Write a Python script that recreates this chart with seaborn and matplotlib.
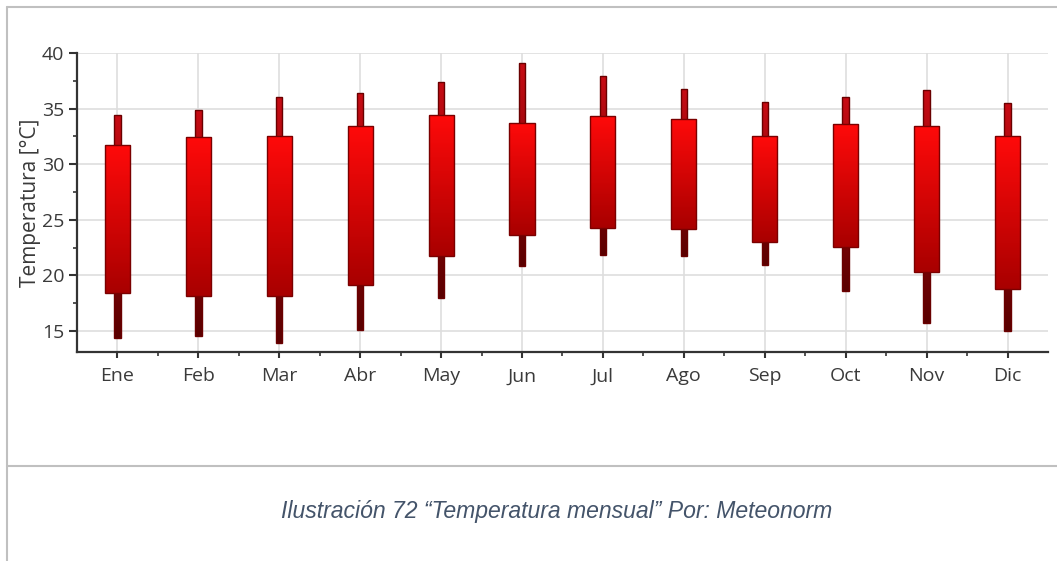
import numpy as np
import pandas as pd
import matplotlib
matplotlib.use("Agg")
import matplotlib.pyplot as plt
from matplotlib.colors import to_rgb
from matplotlib.lines import Line2D
from matplotlib.ticker import FixedLocator, MultipleLocator
import seaborn as sns

# Datos (temperatura mensual, ºC)
meses = ["Ene", "Feb", "Mar", "Abr", "May", "Jun", "Jul", "Ago", "Sep", "Oct", "Nov", "Dic"]
t_min = [14.4, 14.5, 13.9, 15.1, 18.0, 20.8, 21.8, 21.7, 20.9, 18.6, 15.7, 15.0]
t_caja_baja = [18.4, 18.1, 18.15, 19.1, 21.7, 23.6, 24.3, 24.2, 23.0, 22.55, 20.3, 18.8]
t_caja_alta = [31.7, 32.4, 32.5, 33.4, 34.4, 33.7, 34.3, 34.1, 32.5, 33.6, 33.4, 32.5]
t_max = [34.4, 34.9, 36.0, 36.4, 37.4, 39.1, 37.9, 36.8, 35.6, 36.0, 36.7, 35.5]

df = pd.DataFrame({
    "mes": meses,
    "t_min": t_min,
    "t_max": t_max,
    "caja_baja": t_caja_baja,
    "caja_alta": t_caja_alta,
})
df["rango"] = df["t_max"] - df["t_min"]
df["caja"] = df["caja_alta"] - df["caja_baja"]

sns.set_theme(style="whitegrid")
plt.rcParams["font.family"] = ["Open Sans", "DejaVu Sans"]

fig = plt.figure(figsize=(10.57, 5.61), dpi=100)
ax = fig.add_axes([0.0728, 0.3725, 0.9187, 0.533])

# whiskers (min-max) and boxes, both as bars with a bottom
sns.barplot(data=df, x="mes", y="rango", bottom=df["t_min"].values, width=0.08,
            errorbar=None, color="#900000", ax=ax)
n_bigotes = len(ax.patches)
sns.barplot(data=df, x="mes", y="caja", bottom=df["caja_baja"].values, width=0.31,
            errorbar=None, color="#d00000", ax=ax)


def degradado(patch, arriba, abajo, borde, z):
    x0, y0 = patch.get_x(), patch.get_y()
    w, h = patch.get_width(), patch.get_height()
    c = np.linspace(0, 1, 256)[:, None, None]
    img = np.array(to_rgb(arriba))[None, None, :] * (1 - c) + np.array(to_rgb(abajo))[None, None, :] * c
    im = ax.imshow(img, extent=(x0, x0 + w, y0, y0 + h), aspect="auto",
                   origin="upper", zorder=z, interpolation="bilinear")
    im.set_clip_path(patch)
    patch.set_facecolor("none")
    patch.set_edgecolor(borde)
    patch.set_linewidth(1.0)
    patch.set_zorder(z + 0.1)


for i, p in enumerate(ax.patches):
    if i < n_bigotes:
        degradado(p, "#c80c14", "#5a0000", "#6a0000", 3)
    else:
        degradado(p, "#ff0a0a", "#a80000", "#7a0000", 4)

ax.set_xlim(-0.5, 11.5)
ax.set_ylim(13.1, 40)
ax.set_yticks([15, 20, 25, 30, 35, 40])
ax.yaxis.set_minor_locator(MultipleLocator(2.5))
ax.xaxis.set_minor_locator(FixedLocator(np.arange(0.5, 11, 1)))

ax.grid(True, which="major", color="#dedede", linewidth=1.2)
ax.grid(False, which="minor")
ax.set_axisbelow(True)

sns.despine(ax=ax)
for s in ["left", "bottom"]:
    ax.spines[s].set_color("#333333")
    ax.spines[s].set_linewidth(1.6)

ax.tick_params(axis="both", which="major", length=6, width=1.5, color="#333333",
               labelsize=14, labelcolor="#3a3a3a", left=True, bottom=True, pad=3)
ax.tick_params(axis="both", which="minor", length=3, width=1.2, color="#333333",
               left=True, bottom=True)
ax.tick_params(axis="x", which="major", length=4, pad=7)

ax.set_xlabel("")
ax.set_ylabel("Temperatura [°C]", fontsize=15, color="#3a3a3a", labelpad=1)

# document frame lines and caption
gris = "#c0c0c0"
fig.add_artist(Line2D([0.0066, 0.0066], [0.0, 0.9875], color=gris, linewidth=1.5))
fig.add_artist(Line2D([0.0066, 1.0], [0.9875, 0.9875], color=gris, linewidth=1.5))
fig.add_artist(Line2D([0.0066, 1.0], [0.1693, 0.1693], color=gris, linewidth=1.5))

fig.text(0.5265, 0.089, "Ilustración 72 “Temperatura mensual” Por: Meteonorm",
         ha="center", va="center", fontsize=16.6, style="italic",
         family=["Liberation Sans", "DejaVu Sans"], color="#44546a")

fig.savefig("out.png", dpi=100, facecolor="white")
